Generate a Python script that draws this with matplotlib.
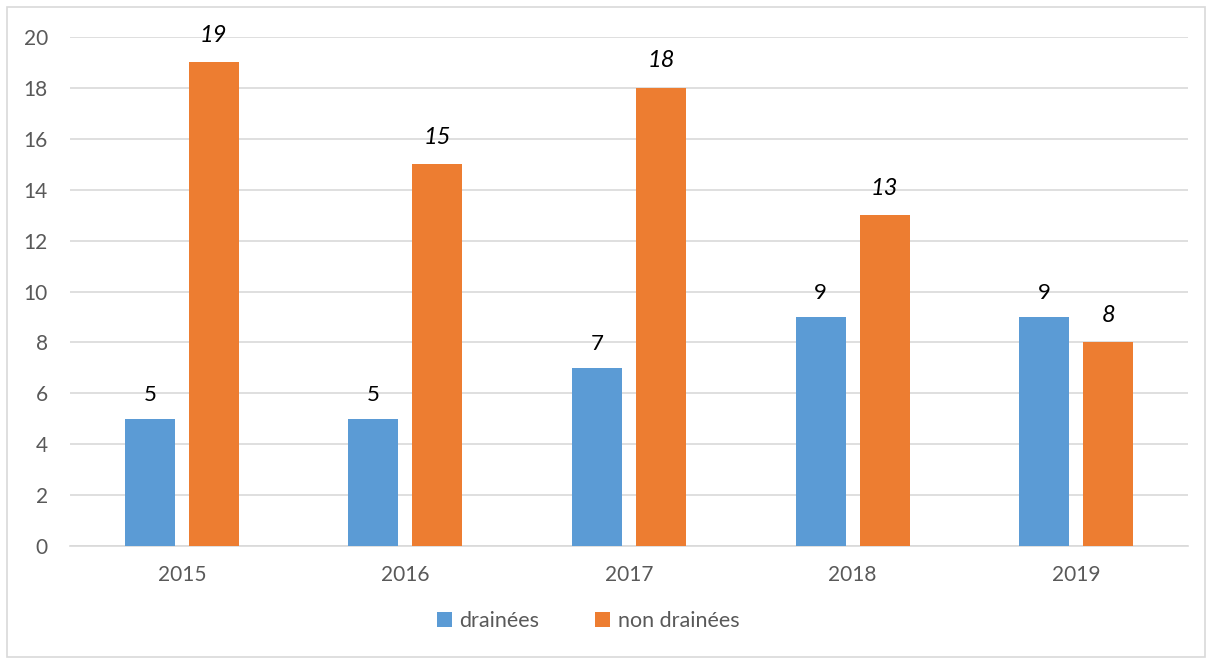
import numpy as np
import matplotlib.pyplot as plt
from matplotlib.patches import Rectangle

years = ["2015", "2016", "2017", "2018", "2019"]
drainees = [5, 5, 7, 9, 9]
non_drainees = [19, 15, 18, 13, 8]

blue = "#5b9bd5"
orange = "#ed7d31"
grey = "#595959"

plt.rcParams["font.family"] = ["Lato", "DejaVu Sans"]

fig = plt.figure(figsize=(12.12, 6.64), dpi=100)
ax = fig.add_axes([70 / 1212, 1 - 546 / 664, 1118 / 1212, 509 / 664])

x = np.arange(len(years))
w = 0.224
off = 0.143
b1 = ax.bar(x - off, drainees, w, color=blue, label="drainées", zorder=3)
b2 = ax.bar(x + off, non_drainees, w, color=orange, label="non drainées", zorder=3)

# data labels: plain for drainées, italic for non drainées
for rect, v in zip(b1, drainees):
    ax.text(rect.get_x() + rect.get_width() / 2, v + 0.55, str(v),
            ha="center", va="bottom", fontsize=16, color="black")
for rect, v in zip(b2, non_drainees):
    ax.text(rect.get_x() + rect.get_width() / 2, v + 0.65, str(v),
            ha="center", va="bottom", fontsize=17, color="black", style="italic")

ax.set_xlim(-0.5, len(years) - 0.5)
ax.set_ylim(0, 20)
ax.set_yticks(range(0, 21, 2))
ax.set_xticks(x)
ax.set_xticklabels(years)
ax.tick_params(axis="both", length=0, labelsize=15, colors=grey)
ax.tick_params(axis="y", pad=16)
ax.tick_params(axis="x", pad=14)
ax.yaxis.grid(True, color="#d9d9d9", lw=1.2, zorder=0)
for s in ["top", "right", "left"]:
    ax.spines[s].set_visible(False)
ax.spines["bottom"].set_color("#d9d9d9")
ax.spines["bottom"].set_linewidth(1.2)

leg = fig.legend(handles=[b1, b2], loc="center", bbox_to_anchor=(588 / 1212, 1 - 621 / 664),
                 ncol=2, frameon=False, fontsize=15.5, handlelength=0.7, handleheight=0.7,
                 columnspacing=2.6, handletextpad=0.35)
for t in leg.get_texts():
    t.set_color(grey)

# light frame around the whole chart
fig.patches.append(Rectangle((7 / 1212, 7 / 664), 1198 / 1212, 650 / 664,
                             transform=fig.transFigure, fill=False,
                             edgecolor="#d9d9d9", lw=1.2))

fig.savefig("out.png", dpi=100)
